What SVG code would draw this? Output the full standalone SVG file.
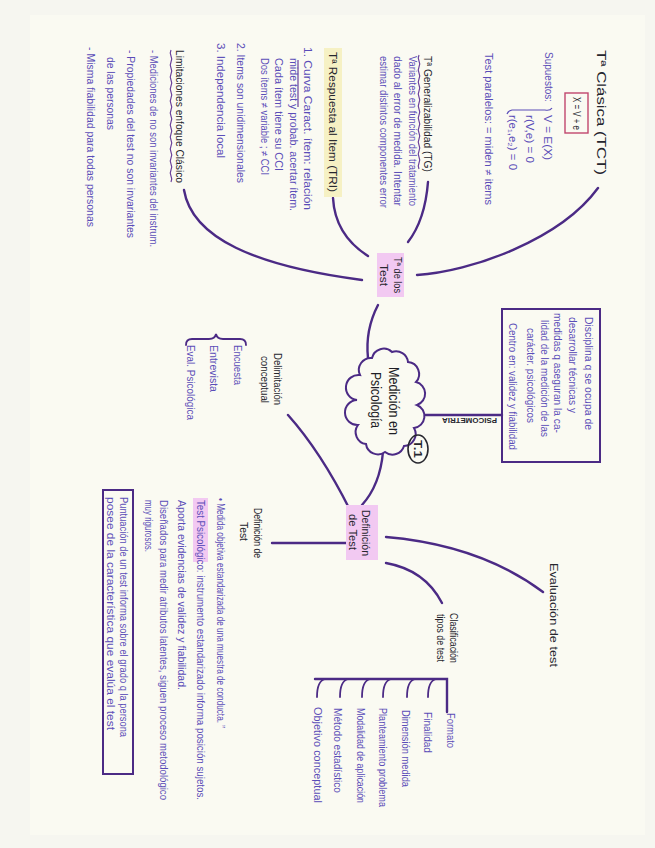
<svg xmlns="http://www.w3.org/2000/svg" width="655" height="848" viewBox="0 0 655 848">
<defs>
<style>
.t{font-family:"Liberation Sans",Arial,sans-serif;font-size:10px;fill:#5a4db8;}
.h{font-family:"Liberation Sans",Arial,sans-serif;font-size:11px;fill:#26262e;}
.b{font-family:"Liberation Sans",Arial,sans-serif;font-size:14px;fill:#1e1e26;}
.ln{stroke:#4b2a85;stroke-width:2.4;fill:none;stroke-linecap:round;}
.thin{stroke:#4b2a85;stroke-width:1.8;fill:none;stroke-linecap:round;}
.pk{fill:#f2c9f2;}
.yl{fill:#f6f1c4;}
.wv{stroke:#6a3f9a;stroke-width:1.2;fill:none;}
</style>
</defs>
<rect x="0" y="0" width="655" height="848" fill="#f6f6f0"/>
<rect x="30" y="15" width="615" height="820" fill="#fafaf2"/>

<g id="connectors">
<path class="ln" d="M417 275 C470 272 560 240 598 188"/>
<path class="ln" d="M408 242 Q425 220 428 182"/>
<path class="ln" d="M368 256 Q335 235 333 198"/>
<path class="ln" d="M362 280 C255 266 192 238 184 190"/>
<path class="ln" d="M378 305 Q365 330 368 358"/>
<path class="ln" d="M417 415 L502 415"/>
<path class="ln" d="M383 452 Q380 485 362 505"/>
<path class="ln" d="M288 415 Q321 452 350 510"/>
<path class="ln" d="M272 543 L346 543"/>
<path class="ln" d="M386 537 Q480 545 543 592"/>
<path class="ln" d="M386 563 Q425 570 442 603"/>
<path class="ln" d="M315 679 L447 679 L447 712"/>
<path class="thin" d="M436 679 Q428 681 428 697 M415 679 Q407 681 407 697 M391 679 Q383 681 383 697 M370 679 Q362 681 362 697 M348 679 Q340 681 340 697 M325 679 Q317 681 317 697"/>
</g>

<g id="tct">
<text class="h" style="font-size:13px" transform="translate(597,50) rotate(90)" textLength="125" lengthAdjust="spacingAndGlyphs">Tª Clásica (TCT)</text>
<rect x="565" y="93" width="23" height="40" fill="none" stroke="#c0466e" stroke-width="1.4"/>
<text class="h" transform="translate(573,97) rotate(90)" textLength="33" lengthAdjust="spacingAndGlyphs">X = V + e</text>
<text class="t" transform="translate(545,52) rotate(90)" textLength="50" lengthAdjust="spacingAndGlyphs">Supuestos:</text>
<path class="wv" style="stroke:#5a4db8" d="M552 108 Q550 111 545 110 L512 110 Q508 111 507 114"/>
<text class="t" transform="translate(544,115) rotate(90)" textLength="45" lengthAdjust="spacingAndGlyphs">V = E(X)</text>
<text class="t" transform="translate(526,115) rotate(90)" textLength="48" lengthAdjust="spacingAndGlyphs">r(V,e) = 0</text>
<text class="t" transform="translate(509,115) rotate(90)" textLength="55" lengthAdjust="spacingAndGlyphs">r(e₁,e₂) = 0</text>
<text class="t" transform="translate(485,53) rotate(90)" textLength="152" lengthAdjust="spacingAndGlyphs">Test paralelos: = miden ≠ items</text>
</g>

<g id="tg">
<text class="h" transform="translate(424,56) rotate(90)" textLength="116" lengthAdjust="spacingAndGlyphs">Tª Generalizabilidad (TG)</text>
<path class="wv" d="M419 55 q-1.5 3 0 6 t0 6 t0 6 t0 6 t0 6 t0 6 t0 6 t0 6 t0 6 t0 6 t0 6 t0 6 t0 6 t0 6 t0 6 t0 6 t0 6 t0 6 t0 6"/>
<text class="t" transform="translate(409,56) rotate(90)" textLength="150" lengthAdjust="spacingAndGlyphs">Variantes en función del tratamiento</text>
<text class="t" transform="translate(394,56) rotate(90)" textLength="150" lengthAdjust="spacingAndGlyphs">dado al error de medida. Intentar</text>
<text class="t" transform="translate(380,56) rotate(90)" textLength="152" lengthAdjust="spacingAndGlyphs">estimar distintos componentes error</text>
</g>

<g id="tri">
<rect class="yl" x="324" y="48" width="18" height="149"/>
<text class="h" transform="translate(329,52) rotate(90)" textLength="140" lengthAdjust="spacingAndGlyphs">Tª Respuesta al Item (TRI)</text>
<text class="t" transform="translate(304,47) rotate(90)" textLength="163" lengthAdjust="spacingAndGlyphs">1. Curva Caract. ítem: relación</text>
<path class="wv" d="M298 60 L298 107"/>
<text class="t" transform="translate(290,58) rotate(90)" textLength="153" lengthAdjust="spacingAndGlyphs">mide test y probab. acertar ítem.</text>
<text class="t" transform="translate(275,58) rotate(90)" textLength="113" lengthAdjust="spacingAndGlyphs">Cada ítem tiene su CCI</text>
<text class="t" transform="translate(261,58) rotate(90)" textLength="117" lengthAdjust="spacingAndGlyphs">Dos ítems ≠ variable ; ≠ CCI</text>
<text class="t" transform="translate(237,43) rotate(90)" textLength="140" lengthAdjust="spacingAndGlyphs">2. Items son unidimensionales</text>
<text class="t" transform="translate(217,43) rotate(90)" textLength="115" lengthAdjust="spacingAndGlyphs">3. Independencia local</text>
</g>

<g id="limitaciones">
<text class="h" transform="translate(176,50) rotate(90)" textLength="133" lengthAdjust="spacingAndGlyphs">Limitaciones enfoque Clásico</text>
<path class="wv" d="M171 50 q-1.5 3 0 6 t0 6 t0 6 t0 6 t0 6 t0 6 t0 6 t0 6 t0 6 t0 6 t0 6 t0 6 t0 6 t0 6 t0 6 t0 6 t0 6 t0 6 t0 6 t0 6 t0 6 t0 6"/>
<text class="t" transform="translate(150,50) rotate(90)" textLength="197" lengthAdjust="spacingAndGlyphs">- Mediciones de no son invariantes del instrum.</text>
<text class="t" transform="translate(127,50) rotate(90)" textLength="188" lengthAdjust="spacingAndGlyphs">- Propiedades del test no son invariantes</text>
<text class="t" transform="translate(107,57) rotate(90)" textLength="73" lengthAdjust="spacingAndGlyphs">de las personas</text>
<text class="t" transform="translate(87,47) rotate(90)" textLength="180" lengthAdjust="spacingAndGlyphs">- Misma fiabilidad para todas personas</text>
</g>

<g id="teoria-test">
<rect class="pk" x="377" y="253" width="27" height="44"/>
<text class="h" style="font-size:10px" transform="translate(394,257) rotate(90)" textLength="36" lengthAdjust="spacingAndGlyphs">Tª de los</text>
<text class="h" style="font-size:10px" transform="translate(380,264) rotate(90)" textLength="22" lengthAdjust="spacingAndGlyphs">Test</text>
</g>

<g id="medicion">
<path d="M372 358 A12 12 0 0 1 392 352 A12 12 0 0 1 408 362 A12 12 0 0 1 416 382 A12 12 0 0 1 417 405 A12 12 0 0 1 414 428 A12 12 0 0 1 404 446 A12 12 0 0 1 385 452 A12 12 0 0 1 366 444 A12 12 0 0 1 358 425 A12 12 0 0 1 357 400 A12 12 0 0 1 360 375 A12 12 0 0 1 372 358 Z" fill="#fafaf2" stroke="#4b2a85" stroke-width="2"/>
<text class="b" transform="translate(389,367) rotate(90)" textLength="68" lengthAdjust="spacingAndGlyphs">Medición en</text>
<text class="b" transform="translate(371,372) rotate(90)" textLength="56" lengthAdjust="spacingAndGlyphs">Psicología</text>
<ellipse cx="418" cy="449" rx="10" ry="14" fill="none" stroke="#26262e" stroke-width="1.6"/>
<text class="h" style="font-size:11px;font-weight:bold" transform="translate(414,440) rotate(90)" textLength="18" lengthAdjust="spacingAndGlyphs">T.1</text>
</g>

<g id="psicometria">
<text class="h" style="font-size:8px;font-weight:bold" transform="translate(497,418) rotate(180)" textLength="55" lengthAdjust="spacingAndGlyphs">PSICOMETRIA</text>
<rect x="502" y="309" width="98" height="153" fill="none" stroke="#4b2a85" stroke-width="2"/>
<text class="t" transform="translate(585,317) rotate(90)" textLength="113" lengthAdjust="spacingAndGlyphs">Disciplina q se ocupa de</text>
<text class="t" transform="translate(569,317) rotate(90)" textLength="96" lengthAdjust="spacingAndGlyphs">desarrollar técnicas y</text>
<text class="t" transform="translate(554,313) rotate(90)" textLength="120" lengthAdjust="spacingAndGlyphs">medidas q aseguran la ca-</text>
<text class="t" transform="translate(541,320) rotate(90)" textLength="117" lengthAdjust="spacingAndGlyphs">lidad de la medición de las</text>
<text class="t" transform="translate(527,328) rotate(90)" textLength="95" lengthAdjust="spacingAndGlyphs">carácter. psicológicos</text>
<text class="t" transform="translate(509,323) rotate(90)" textLength="127" lengthAdjust="spacingAndGlyphs">Centro en: validez y fiabilidad</text>
</g>

<g id="definicion-test">
<rect class="pk" x="346" y="505" width="32" height="55"/>
<text class="h" style="font-size:10px" transform="translate(362,510) rotate(90)" textLength="46" lengthAdjust="spacingAndGlyphs">Definición</text>
<text class="h" style="font-size:10px" transform="translate(349,514) rotate(90)" textLength="36" lengthAdjust="spacingAndGlyphs">de Test</text>
</g>

<g id="delimitacion">
<text class="h" style="font-size:10px" transform="translate(274,353) rotate(90)" textLength="52" lengthAdjust="spacingAndGlyphs">Delimitación</text>
<text class="h" style="font-size:10px" transform="translate(261,356) rotate(90)" textLength="47" lengthAdjust="spacingAndGlyphs">conceptual</text>
<path class="thin" d="M186 345 Q186 339 192 339 L209 339 Q215 339 216 334 Q217 339 223 339 L240 339 Q246 339 246 345"/>
<text class="t" transform="translate(234,345) rotate(90)" textLength="40" lengthAdjust="spacingAndGlyphs">Encuesta</text>
<text class="t" transform="translate(210,345) rotate(90)" textLength="47" lengthAdjust="spacingAndGlyphs">Entrevista</text>
<text class="t" transform="translate(187,345) rotate(90)" textLength="75" lengthAdjust="spacingAndGlyphs">Eval. Psicológica</text>
</g>

<g id="def-sub">
<text class="h" style="font-size:10px" transform="translate(254,508) rotate(90)" textLength="50" lengthAdjust="spacingAndGlyphs">Definición de</text>
<text class="h" style="font-size:10px" transform="translate(240,522) rotate(90)" textLength="19" lengthAdjust="spacingAndGlyphs">Test</text>
<rect class="pk" x="193" y="498" width="15" height="64"/>
<text class="t" transform="translate(217,498) rotate(90)" textLength="230" lengthAdjust="spacingAndGlyphs">• Medida objetiva estandarizada de una muestra de conducta. ”</text>
<text class="t" transform="translate(197,500) rotate(90)" textLength="300" lengthAdjust="spacingAndGlyphs">Test Psicológico: instrumento estandarizado informa posición sujetos.</text>
<text class="t" transform="translate(178,500) rotate(90)" textLength="190" lengthAdjust="spacingAndGlyphs">Aporta evidencias de validez y fiabilidad.</text>
<text class="t" transform="translate(160,500) rotate(90)" textLength="300" lengthAdjust="spacingAndGlyphs">Diseñados para medir atributos latentes, siguen proceso metodológico</text>
<text class="t" transform="translate(145,500) rotate(90)" textLength="52" lengthAdjust="spacingAndGlyphs">muy rigurosos.</text>
<rect x="103" y="490" width="30" height="284" fill="none" stroke="#4b2a85" stroke-width="2"/>
<text class="t" transform="translate(120,497) rotate(90)" textLength="240" lengthAdjust="spacingAndGlyphs">Puntuación de un test informa sobre el grado q la persona</text>
<text class="t" transform="translate(107,497) rotate(90)" textLength="233" lengthAdjust="spacingAndGlyphs">posee de la característica que evalúa el test</text>
</g>

<g id="evaluacion">
<text class="h" style="font-size:10px" transform="translate(550,563) rotate(90)" textLength="104" lengthAdjust="spacingAndGlyphs">Evaluación  de  test</text>
</g>

<g id="clasificacion">
<text class="h" style="font-size:10px" transform="translate(450,613) rotate(90)" textLength="50" lengthAdjust="spacingAndGlyphs">Clasificación</text>
<text class="h" style="font-size:10px" transform="translate(437,614) rotate(90)" textLength="48" lengthAdjust="spacingAndGlyphs">tipos de test</text>
</g>

<g id="tipos">
<text class="t" transform="translate(447,713) rotate(90)" textLength="35" lengthAdjust="spacingAndGlyphs">Formato</text>
<text class="t" transform="translate(424,712) rotate(90)" textLength="41" lengthAdjust="spacingAndGlyphs">Finalidad</text>
<text class="t" transform="translate(402,710) rotate(90)" textLength="77" lengthAdjust="spacingAndGlyphs">Dimensión medida</text>
<text class="t" transform="translate(379,708) rotate(90)" textLength="99" lengthAdjust="spacingAndGlyphs">Planteamiento problema</text>
<text class="t" transform="translate(357,708) rotate(90)" textLength="95" lengthAdjust="spacingAndGlyphs">Modalidad de aplicación</text>
<text class="t" transform="translate(334,708) rotate(90)" textLength="85" lengthAdjust="spacingAndGlyphs">Método estadístico</text>
<text class="t" transform="translate(314,707) rotate(90)" textLength="96" lengthAdjust="spacingAndGlyphs">Objetivo conceptual</text>
</g>
</svg>
